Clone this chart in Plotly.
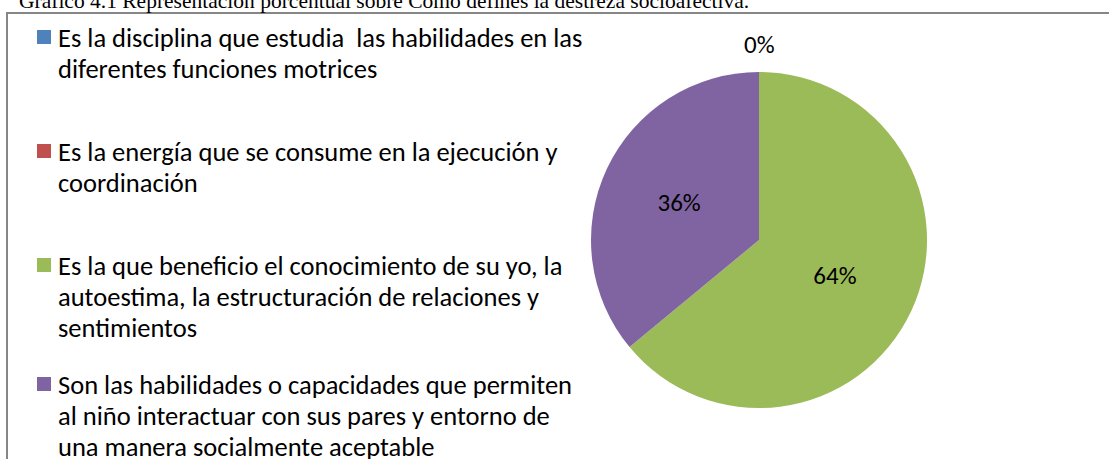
import plotly.graph_objects as go

# ---- data ----
categories = [
    "Es la disciplina que estudia\u00a0 las habilidades en las<br>diferentes funciones motrices",
    "Es la energía que se consume en la ejecución y<br>coordinación",
    "Es la que beneficio el conocimiento de su yo, la<br>autoestima, la estructuración de relaciones y<br>sentimientos",
    "Son las habilidades o capacidades que permiten<br>al niño interactuar con sus pares y entorno de<br>una manera socialmente aceptable",
]
percentages = [0, 0, 64, 36]
colors = ["#4F81BD", "#C0504D", "#9BBB59", "#8064A2"]
title_text = "Gráfico 4.1 Representación porcentual sobre Cómo defines la destreza socioafectiva."

W, H = 1109, 459
def px(x): return x / W
def py(y): return 1 - y / H

LEG_FONT = "Carlito, Lato, sans-serif"

cx, cy, r = 759, 240, 168

labels_txt = [f"{v}%" if v > 0 else "" for v in percentages]

fig = go.Figure(go.Pie(
    labels=[c.replace("<br>", " ") for c in categories],
    values=percentages,
    marker=dict(colors=colors, line=dict(width=0)),
    sort=False,
    direction="clockwise",
    rotation=0,
    text=labels_txt,
    textinfo="text",
    textposition="inside",
    insidetextorientation="horizontal",
    textfont=dict(family=LEG_FONT, size=25, color="black"),
    domain=dict(x=[px(cx - r), px(cx + r)], y=[py(cy + r), py(cy - r)]),
    showlegend=False,
    hoverinfo="label+percent",
))

annotations = []
shapes = []

# label for the zero-valued slices (they sit at the top of the pie)
zero_vals = [v for v in percentages if v == 0]
if zero_vals:
    annotations.append(dict(
        text=f"{zero_vals[0]}%", x=px(cx), y=py(cy - r - 27), xref="paper", yref="paper",
        xanchor="center", yanchor="middle", showarrow=False,
        font=dict(family=LEG_FONT, size=25, color="black"),
    ))

# title (partly cut off at the top, as in the reference)
annotations.append(dict(
    text=title_text, x=px(17), y=py(15), xref="paper", yref="paper",
    xanchor="left", yanchor="bottom", showarrow=False,
    font=dict(family="Liberation Serif, Times New Roman, serif", size=21.5, color="black"),
))

# chart border
shapes.append(dict(type="rect", xref="paper", yref="paper",
                   x0=px(7), x1=px(W + 10), y0=py(H + 10), y1=py(13),
                   line=dict(color="#868686", width=2), fillcolor="rgba(0,0,0,0)", layer="below"))

# legend (Excel-style, entries spread over the left side)
item_first_line = [38, 152, 266, 385]
line_gap = 31
for i, (cat, col) in enumerate(zip(categories, colors)):
    y0 = item_first_line[i]
    shapes.append(dict(type="rect", xref="paper", yref="paper",
                       x0=px(37), x1=px(51), y0=py(y0 + 6), y1=py(y0 - 8),
                       line=dict(width=0), fillcolor=col))
    for j, line in enumerate(cat.split("<br>")):
        annotations.append(dict(
            text=line, x=px(56), y=py(y0 + j * line_gap), xref="paper", yref="paper",
            xanchor="left", yanchor="middle", showarrow=False,
            font=dict(family=LEG_FONT, size=26.5, color="black"),
        ))

fig.update_layout(
    width=W, height=H,
    margin=dict(l=0, r=0, t=0, b=0),
    paper_bgcolor="white", plot_bgcolor="white",
    annotations=annotations, shapes=shapes,
)

fig.write_html("out.html", config={"displayModeBar": False},
               post_script="document.body.style.margin='0';")
